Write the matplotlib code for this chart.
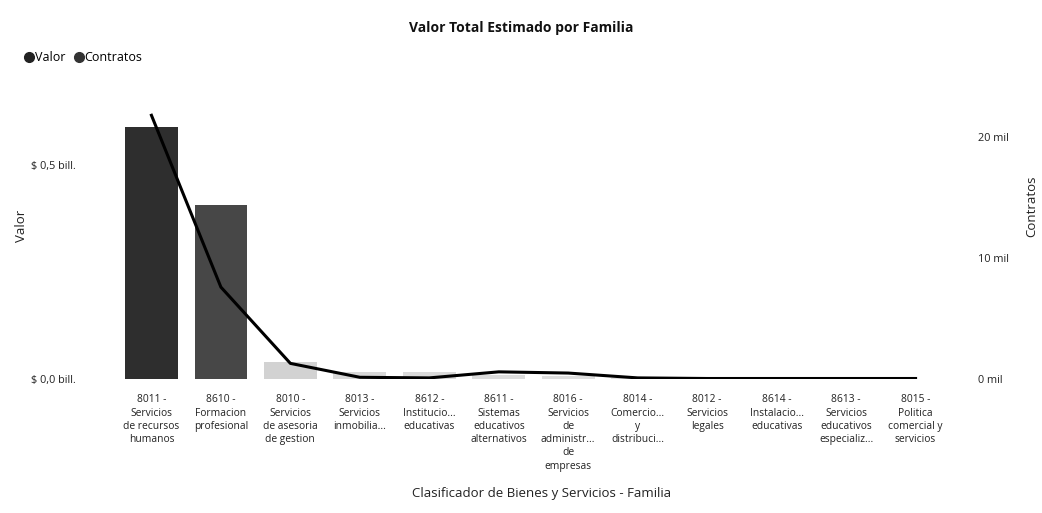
import numpy as np
import matplotlib
matplotlib.use("Agg")
import matplotlib.pyplot as plt
from matplotlib.lines import Line2D
from matplotlib.ticker import FixedLocator, FuncFormatter

plt.rcParams["font.family"] = ["Open Sans", "DejaVu Sans"]

# Data (valor in billones de pesos, contratos in miles)
familias = [
    "8011 -\nServicios\nde recursos\nhumanos",
    "8610 -\nFormacion\nprofesional",
    "8010 -\nServicios\nde asesoria\nde gestion",
    "8013 -\nServicios\ninmobilia...",
    "8612 -\nInstitucio...\neducativas",
    "8611 -\nSistemas\neducativos\nalternativos",
    "8016 -\nServicios\nde\nadministr...\nde\nempresas",
    "8014 -\nComercio...\ny\ndistribuci...",
    "8012 -\nServicios\nlegales",
    "8614 -\nInstalacio...\neducativas",
    "8613 -\nServicios\neducativos\nespecializ...",
    "8015 -\nPolitica\ncomercial y\nservicios",
]
valor_bill = [0.589, 0.407, 0.040, 0.016, 0.016, 0.009, 0.007, 0.002, 0.001, 0.001, 0.001, 0.001]
contratos_mil = [21.8, 7.6, 1.3, 0.15, 0.1, 0.6, 0.5, 0.1, 0.05, 0.05, 0.05, 0.05]
bar_grays = ["#2e2e2e", "#474747", "#d2d2d2", "#d8d8d8", "#dadada", "#dcdcdc",
             "#dedede", "#e0e0e0", "#e2e2e2", "#e2e2e2", "#e2e2e2", "#e2e2e2"]

fig = plt.figure(figsize=(10.42, 5.13), dpi=100)
ax = fig.add_axes([0.112, 0.261, 0.800, 0.544])
ax2 = ax.twinx()

x = np.arange(len(familias))
ax.bar(x, valor_bill, width=0.76, color=bar_grays, zorder=2)
ax2.plot(x, contratos_mil, color="black", lw=2.2, zorder=3)

ax.set_xlim(-0.5, len(familias) - 0.5)
ax.set_ylim(0, 0.652)
ax2.set_ylim(0, 23.06)

ax.yaxis.set_major_locator(FixedLocator([0, 0.5]))
ax.yaxis.set_major_formatter(FuncFormatter(lambda v, p: f"$ {v:.1f} bill.".replace(".", ",", 1)))
ax2.yaxis.set_major_locator(FixedLocator([0, 10, 20]))
ax2.yaxis.set_major_formatter(FuncFormatter(lambda v, p: f"{v:.0f} mil"))

ax.set_xticks(x)
ax.set_xticklabels(familias, fontsize=7.4, linespacing=1.28, color="#222222")

for a in (ax, ax2):
    for s in a.spines.values():
        s.set_visible(False)
    a.tick_params(length=0, labelsize=7.8, colors="#222222")
ax.tick_params(axis="x", pad=11, labelsize=7.4)
ax.tick_params(axis="y", pad=62)
ax2.tick_params(axis="y", pad=20)
for lbl in ax.get_yticklabels():
    lbl.set_horizontalalignment("left")

ax.set_ylabel("Valor", fontsize=9.5, color="#222222", labelpad=0)
ax.yaxis.set_label_coords(-0.106, 0.55)
ax2.set_ylabel("Contratos", fontsize=9.5, color="#222222")
ax2.yaxis.set_label_coords(1.09, 0.62)
ax.set_xlabel("Clasificador de Bienes y Servicios - Familia", fontsize=9.5, color="#222222")
ax.xaxis.set_label_coords(0.51, -0.385)

fig.text(0.5, 0.945, "Valor Total Estimado por Familia", ha="center", va="center",
         fontsize=10, fontweight="bold", color="#111111")

handles = [Line2D([], [], marker="o", ls="none", color="#222222", markersize=7),
           Line2D([], [], marker="o", ls="none", color="#333333", markersize=7)]
fig.legend(handles, ["Valor", "Contratos"], loc="center left", bbox_to_anchor=(0.012, 0.888),
           ncol=2, frameon=False, fontsize=9, handletextpad=0.0, columnspacing=0.6,
           handlelength=0.9)

fig.savefig("out.png", dpi=100)
